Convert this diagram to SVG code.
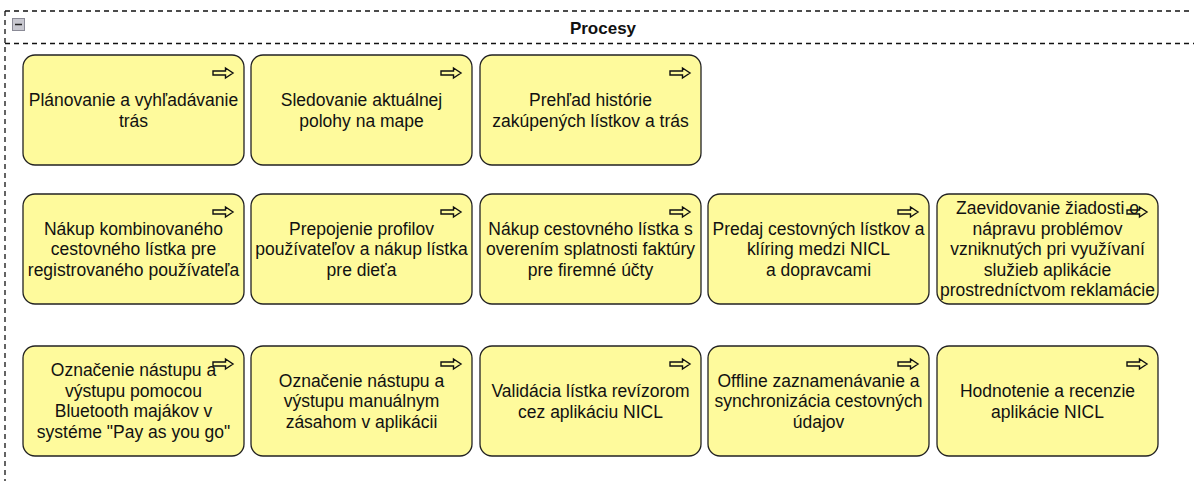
<svg xmlns="http://www.w3.org/2000/svg" width="1194" height="481" viewBox="0 0 1194 481">
<style>
.frame{fill:none;stroke:#111;stroke-width:1.3;stroke-dasharray:5 4}
.box{fill:#fefa9c;stroke:#222;stroke-width:1.3}
.lbl{font-family:"Liberation Sans",Arial,Helvetica,sans-serif;font-size:17.5px;fill:#111;text-anchor:middle}
.title{font-family:"Liberation Sans",Arial,Helvetica,sans-serif;font-size:17px;font-weight:bold;fill:#111;text-anchor:middle}
.ico{fill:#fefa9c;stroke:#111;stroke-width:1.4;stroke-linejoin:miter}
</style>
<defs>
<path id="arr" class="ico" d="M0,3 H12.5 V0 L20,5 L12.5,10 V7 H0 Z"/>
</defs>
<rect width="1194" height="481" fill="#fff"/>
<g id="container">
<line class="frame" x1="5" y1="11" x2="1192" y2="11"/>
<line class="frame" x1="5" y1="11" x2="5" y2="481"/>
<line class="frame" x1="5" y1="43.5" x2="1194" y2="43.5"/>
<rect x="12.5" y="18.5" width="12" height="12" fill="#c8c8d0" stroke="#8a8a96" stroke-width="1"/>
<line x1="15" y1="24.5" x2="22" y2="24.5" stroke="#222" stroke-width="1.5"/>
<text class="title" x="603" y="34">Procesy</text>
</g>
<g id="connectors"></g>

<g id="n1"><rect class="box" x="23" y="55" width="221" height="110" rx="12"/><use href="#arr" x="213" y="68"/>
<text class="lbl" x="133.5" y="106">Plánovanie a vyhľadávanie</text><text class="lbl" x="133.5" y="126.5">trás</text></g>
<g id="n2"><rect class="box" x="251" y="55" width="221" height="110" rx="12"/><use href="#arr" x="441" y="68"/>
<text class="lbl" x="361.5" y="106">Sledovanie aktuálnej</text><text class="lbl" x="361.5" y="126.5">polohy na mape</text></g>
<g id="n3"><rect class="box" x="480" y="55" width="221" height="110" rx="12"/><use href="#arr" x="670" y="68"/>
<text class="lbl" x="590.5" y="106">Prehľad histórie</text><text class="lbl" x="590.5" y="126.5">zakúpených lístkov a trás</text></g>

<g id="n4"><rect class="box" x="23" y="194" width="221" height="110" rx="12"/><use href="#arr" x="213" y="207"/>
<text class="lbl" x="133.5" y="234.5">Nákup kombinovaného</text><text class="lbl" x="133.5" y="255">cestovného lístka pre</text><text class="lbl" x="133.5" y="275.5">registrovaného používateľa</text></g>
<g id="n5"><rect class="box" x="251" y="194" width="221" height="110" rx="12"/><use href="#arr" x="441" y="207"/>
<text class="lbl" x="361.5" y="234.5">Prepojenie profilov</text><text class="lbl" x="361.5" y="255">používateľov a nákup lístka</text><text class="lbl" x="361.5" y="275.5">pre dieťa</text></g>
<g id="n6"><rect class="box" x="480" y="194" width="221" height="110" rx="12"/><use href="#arr" x="670" y="207"/>
<text class="lbl" x="590.5" y="234.5">Nákup cestovného lístka s</text><text class="lbl" x="590.5" y="255">overením splatnosti faktúry</text><text class="lbl" x="590.5" y="275.5">pre firemné účty</text></g>
<g id="n7"><rect class="box" x="708" y="194" width="221" height="110" rx="12"/><use href="#arr" x="898" y="207"/>
<text class="lbl" x="818.5" y="234.5">Predaj cestovných lístkov a</text><text class="lbl" x="818.5" y="255">klíring medzi NICL</text><text class="lbl" x="818.5" y="275.5">a dopravcami</text></g>
<g id="n8"><rect class="box" x="937" y="194" width="221" height="110" rx="12"/><use href="#arr" x="1127" y="207"/>
<text class="lbl" x="1047.5" y="214">Zaevidovanie žiadosti o</text><text class="lbl" x="1047.5" y="234.5">nápravu problémov</text><text class="lbl" x="1047.5" y="255">vzniknutých pri využívaní</text><text class="lbl" x="1047.5" y="275.5">služieb aplikácie</text><text class="lbl" x="1047.5" y="296">prostredníctvom reklamácie</text></g>

<g id="n9"><rect class="box" x="23" y="346" width="221" height="110" rx="12"/><use href="#arr" x="213" y="359"/>
<text class="lbl" x="133.5" y="376">Označenie nástupu a</text><text class="lbl" x="133.5" y="396.5">výstupu pomocou</text><text class="lbl" x="133.5" y="417">Bluetooth majákov v</text><text class="lbl" x="133.5" y="437.5">systéme "Pay as you go"</text></g>
<g id="n10"><rect class="box" x="251" y="346" width="221" height="110" rx="12"/><use href="#arr" x="441" y="359"/>
<text class="lbl" x="361.5" y="386.5">Označenie nástupu a</text><text class="lbl" x="361.5" y="407">výstupu manuálnym</text><text class="lbl" x="361.5" y="427.5">zásahom v aplikácii</text></g>
<g id="n11"><rect class="box" x="480" y="346" width="221" height="110" rx="12"/><use href="#arr" x="670" y="359"/>
<text class="lbl" x="590.5" y="397">Validácia lístka revízorom</text><text class="lbl" x="590.5" y="417.5">cez aplikáciu NICL</text></g>
<g id="n12"><rect class="box" x="708" y="346" width="221" height="110" rx="12"/><use href="#arr" x="898" y="359"/>
<text class="lbl" x="818.5" y="386.5">Offline zaznamenávanie a</text><text class="lbl" x="818.5" y="407">synchronizácia cestovných</text><text class="lbl" x="818.5" y="427.5">údajov</text></g>
<g id="n13"><rect class="box" x="937" y="346" width="221" height="110" rx="12"/><use href="#arr" x="1127" y="359"/>
<text class="lbl" x="1047.5" y="397">Hodnotenie a recenzie</text><text class="lbl" x="1047.5" y="417.5">aplikácie NICL</text></g>
</svg>
